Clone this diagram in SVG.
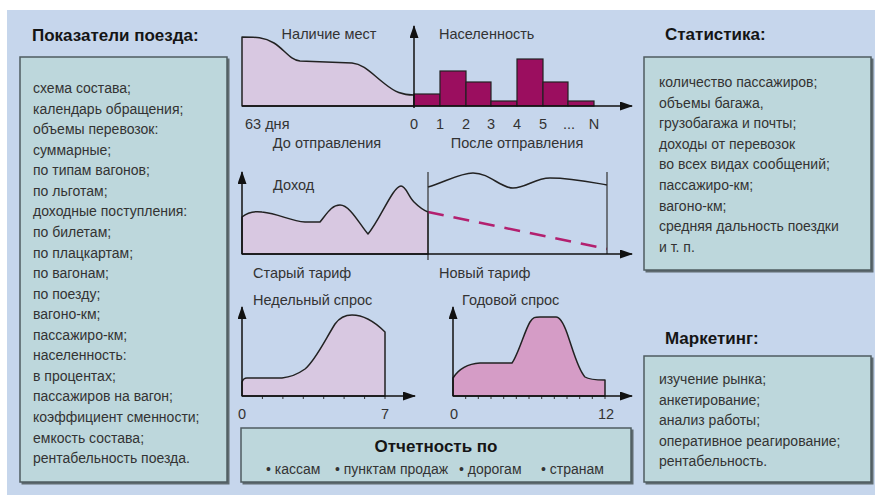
<svg xmlns="http://www.w3.org/2000/svg" width="877" height="495" viewBox="0 0 877 495">
  <style>
    text { font-family: "Liberation Sans", Arial, sans-serif; }
    .title { font-size: 17px; font-weight: bold; fill: #151515; }
    .body { font-size: 14px; fill: #333333; }
    .lbl { font-size: 14.5px; fill: #333333; }
    .panel { fill: #bdd7dc; stroke: #4f5c60; stroke-width: 1.5; }
    .shadow { fill: #5f6b70; }
    .area { fill: #d8c8e1; stroke: #222222; stroke-width: 1.5; stroke-linejoin: round; }
    .area2 { fill: #d59cc6; stroke: #222222; stroke-width: 1.5; stroke-linejoin: round; }
    .bar { fill: #9b0e5f; stroke: #222222; stroke-width: 1.2; }
    .axis { stroke: #111111; stroke-width: 1.5; fill: none; }
    .thin { stroke: #333333; stroke-width: 1.2; fill: none; }
    .tick { stroke: #333333; stroke-width: 1; }
    .curve { stroke: #222222; stroke-width: 1.5; fill: none; }
    .dash { stroke: #b3206f; stroke-width: 2.5; fill: none; stroke-dasharray: 16 10; }
  </style>
  <defs>
    <marker id="arrow" markerUnits="userSpaceOnUse" markerWidth="13" markerHeight="9" refX="12" refY="4.5" orient="auto">
      <path d="M0,0 L13,4.5 L0,9 Z" fill="#111111"/>
    </marker>
  </defs>

  <!-- backdrop -->
  <rect x="0" y="0" width="877" height="495" fill="#ffffff"/>
  <rect x="7" y="10" width="868" height="485" fill="#c6d6ec"/>

  <!-- left panel: train indicators -->
  <g id="indicators">
    <text class="title" x="32" y="41">Показатели поезда:</text>
    <rect class="shadow" x="21.5" y="58.5" width="208" height="426"/>
    <rect class="panel" x="20" y="57" width="207" height="425"/>
    <g class="body">
      <text x="33" y="93">схема состава;</text>
      <text x="33" y="113.6">календарь обращения;</text>
      <text x="33" y="134.1">объемы перевозок:</text>
      <text x="33" y="154.7">суммарные;</text>
      <text x="33" y="175.2">по типам вагонов;</text>
      <text x="33" y="195.8">по льготам;</text>
      <text x="33" y="216.4">доходные поступления:</text>
      <text x="33" y="236.9">по билетам;</text>
      <text x="33" y="257.5">по плацкартам;</text>
      <text x="33" y="278">по вагонам;</text>
      <text x="33" y="298.6">по поезду;</text>
      <text x="33" y="319.2">вагоно-км;</text>
      <text x="33" y="339.7">пассажиро-км;</text>
      <text x="33" y="360.3">населенность:</text>
      <text x="33" y="380.8">в процентах;</text>
      <text x="33" y="401.4">пассажиров на вагон;</text>
      <text x="33" y="422">коэффициент сменности;</text>
      <text x="33" y="442.5">емкость состава;</text>
      <text x="33" y="463">рентабельность поезда.</text>
    </g>
  </g>

  <!-- right panel: statistics -->
  <g id="statistics">
    <text class="title" x="665" y="40">Статистика:</text>
    <rect class="shadow" x="645.5" y="58.5" width="228" height="214"/>
    <rect class="panel" x="644" y="57" width="227" height="213"/>
    <g class="body">
      <text x="659" y="87">количество пассажиров;</text>
      <text x="659" y="107.6">объемы багажа,</text>
      <text x="659" y="128.2">грузобагажа и почты;</text>
      <text x="659" y="148.8">доходы от перевозок</text>
      <text x="659" y="169.4">во всех видах сообщений;</text>
      <text x="659" y="190">пассажиро-км;</text>
      <text x="659" y="210.6">вагоно-км;</text>
      <text x="659" y="231.2">средняя дальность поездки</text>
      <text x="659" y="251.8">и т. п.</text>
    </g>
  </g>

  <!-- right panel: marketing -->
  <g id="marketing">
    <text class="title" x="665" y="344">Маркетинг:</text>
    <rect class="shadow" x="645.5" y="357.5" width="228" height="127"/>
    <rect class="panel" x="644" y="356" width="227" height="126"/>
    <g class="body">
      <text x="659" y="384">изучение рынка;</text>
      <text x="659" y="404.5">анкетирование;</text>
      <text x="659" y="425">анализ работы;</text>
      <text x="659" y="445.5">оперативное реагирование;</text>
      <text x="659" y="466">рентабельность.</text>
    </g>
  </g>

  <!-- bottom panel: reporting -->
  <g id="reporting">
    <rect class="shadow" x="242.5" y="429.5" width="391" height="55"/>
    <rect class="panel" x="241" y="428" width="390" height="54"/>
    <text class="title" x="436" y="452" text-anchor="middle">Отчетность по</text>
    <g class="body">
      <text x="266" y="474">• кассам</text>
      <text x="335" y="474">• пунктам продаж</text>
      <text x="459" y="474">• дорогам</text>
      <text x="541" y="474">• странам</text>
    </g>
  </g>

  <!-- chart: seat availability and occupancy -->
  <g id="chart-seats">
    <path class="area" d="M242,106 L242,37 C256,37 264,37 274,43 C285,50 290,60 300,61 L352,63 C364,64 372,74 385,84 C395,92 402,95 414,95 L414,106 Z"/>
    <rect class="bar" x="414" y="94" width="26" height="12"/>
    <rect class="bar" x="440" y="71" width="26" height="35"/>
    <rect class="bar" x="466" y="82" width="25" height="24"/>
    <rect class="bar" x="491" y="101" width="26" height="5"/>
    <rect class="bar" x="517" y="59" width="26" height="47"/>
    <rect class="bar" x="543" y="82" width="25" height="24"/>
    <rect class="bar" x="568" y="101" width="26" height="5"/>
    <text class="lbl" x="329" y="39" text-anchor="middle">Наличие мест</text>
    <text class="lbl" x="439" y="39">Населенность</text>
    <text class="lbl" x="245" y="129">63 дня</text>
    <g class="lbl" text-anchor="middle">
      <text x="414" y="129">0</text>
      <text x="440" y="129">1</text>
      <text x="466" y="129">2</text>
      <text x="491" y="129">3</text>
      <text x="517" y="129">4</text>
      <text x="543" y="129">5</text>
      <text x="569" y="129">...</text>
      <text x="594" y="129">N</text>
    </g>
    <text class="lbl" x="327" y="148" text-anchor="middle">До отправления</text>
    <text class="lbl" x="517" y="148" text-anchor="middle">После отправления</text>
  </g>

  <!-- chart: income under old and new tariff -->
  <g id="chart-income">
    <path class="area" d="M242,254 L242,217 C248,212 255,211 262,212 C280,214 290,221 305,222 L320,222 C328,212 332,205 340,205 C350,205 360,225 368,234 C380,220 393,186 401,186 C406,186 408,196 414,202 C419,207 423,210 428,212 L428,254 Z"/>
    <path class="curve" d="M428,187 C445,182 460,173 473,173 C490,173 500,188 513,188 C526,188 535,178 550,178 C572,178 590,182 607,185"/>
    <path class="dash" d="M428,212 L607,249"/>
    <path class="thin" d="M428,172 L428,260 M607,172 L607,254"/>
    <text class="lbl" x="273" y="190">Доход</text>
    <text class="lbl" x="253" y="278">Старый тариф</text>
    <text class="lbl" x="439" y="278">Новый тариф</text>
  </g>

  <!-- chart: weekly demand -->
  <g id="chart-weekly">
    <path class="area" d="M242,396 L242,382 C243,379 244,378 247,378 L282,378 C292,377 298,374 305,369 C315,361 325,340 335,324 C340,317 345,315 352,315 C361,315 372,319 385,332 L385,396 Z"/>
    <g class="tick">
      <path d="M262.4,396 v3 M282.9,396 v3 M303.3,396 v3 M323.7,396 v3 M344.1,396 v3 M364.6,396 v3 M385,396 v3"/>
    </g>
    <text class="lbl" x="253" y="305">Недельный спрос</text>
    <text class="lbl" x="242" y="419" text-anchor="middle">0</text>
    <text class="lbl" x="385" y="419" text-anchor="middle">7</text>
  </g>

  <!-- chart: yearly demand -->
  <g id="chart-yearly">
    <path class="area2" d="M453,396 L453,378 C458,370 465,364 480,363 L512,363 C518,355 525,330 530,322 C533,317 535,317 540,317 L556,317 C560,317 563,322 567,333 C573,350 578,370 585,377 C588,379 592,380 605,380 L605,396 Z"/>
    <g class="tick">
      <path d="M465.7,396 v3 M478.3,396 v3 M491,396 v3 M503.7,396 v3 M516.3,396 v3 M529,396 v3 M541.7,396 v3 M554.3,396 v3 M567,396 v3 M579.7,396 v3 M592.3,396 v3 M605,396 v3"/>
    </g>
    <text class="lbl" x="462" y="305">Годовой спрос</text>
    <text class="lbl" x="454" y="419" text-anchor="middle">0</text>
    <text class="lbl" x="606" y="419" text-anchor="middle">12</text>
  </g>

  <!-- axes -->
  <g id="connectors">
    <path class="axis" d="M242,106 L632,106" marker-end="url(#arrow)"/>
    <path class="axis" d="M414,108 L414,26" marker-end="url(#arrow)"/>
    <path class="axis" d="M242,254 L632,254" marker-end="url(#arrow)"/>
    <path class="axis" d="M242,254 L242,172" marker-end="url(#arrow)"/>
    <path class="axis" d="M242,396 L415,396" marker-end="url(#arrow)"/>
    <path class="axis" d="M242,396 L242,307" marker-end="url(#arrow)"/>
    <path class="axis" d="M453,396 L632,396" marker-end="url(#arrow)"/>
    <path class="axis" d="M453,396 L453,307" marker-end="url(#arrow)"/>
  </g>
</svg>
